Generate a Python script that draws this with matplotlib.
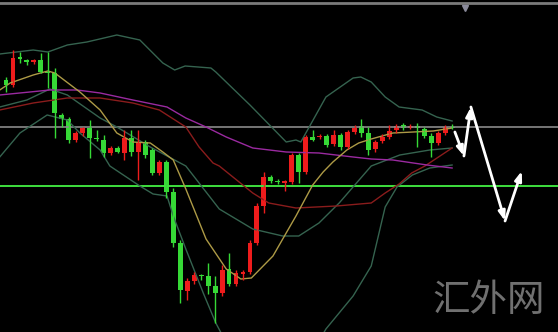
import numpy as np
import matplotlib.pyplot as plt

# candle data (price points)
opens  = [252, 247, 275, 272, 270, 272, 260, 259, 217, 213, 192, 199, 204, 194, 192, 179, 184, 179, 194, 180,
          190, 182, 159, 170, 140, 89, 41, 51, 57, 56, 46, 39, 63, 48, 58, 60, 89, 126, 155, 151,
          149, 150, 177, 160, 195, 195, 196, 188, 197, 185, 200, 206, 199, 183, 191, 195, 202, 207, 204, 206,
          203, 196, 189, 199, 205]
highs  = [255, 282, 280, 273, 273, 279, 280, 264, 219, 215, 201, 205, 212, 202, 197, 186, 186, 202, 202, 202,
          192, 184, 172, 172, 144, 92, 54, 60, 58, 69, 56, 67, 79, 62, 62, 92, 129, 160, 157, 153,
          152, 179, 179, 197, 202, 198, 198, 202, 199, 202, 207, 213, 205, 192, 198, 207, 208, 209, 208, 209,
          205, 199, 201, 207, 208]
lows   = [240, 245, 269, 267, 268, 259, 244, 194, 205, 189, 190, 196, 174, 191, 175, 177, 179, 172, 176, 152,
          174, 157, 157, 134, 85, 29, 32, 48, 52, 38, 9, 36, 46, 46, 52, 58, 87, 119, 149, 148,
          141, 148, 149, 158, 191, 193, 185, 186, 182, 183, 198, 195, 177, 180, 189, 193, 199, 202, 203, 185,
          194, 175, 187, 197, 203]
closes = [247, 274, 273, 270, 272, 260, 259, 219, 213, 192, 199, 204, 194, 193, 179, 184, 180, 194, 180, 190,
          177, 159, 170, 140, 89, 42, 51, 57, 56, 46, 39, 62, 48, 59, 60, 89, 126, 155, 151, 150,
          151, 177, 160, 195, 192, 196, 187, 197, 185, 200, 204, 199, 182, 190, 195, 201, 206, 204, 206, 204,
          196, 189, 199, 205, 204]

# indicator lines (bar index, price)
bb_up_x = [-0.9, 3.9, 6, 8.8, 11.6, 15.9, 19.2, 22.5, 24.2, 25.7, 29.4, 30.1, 35, 40.2, 41.6, 42.3, 45.9, 49.8,
           50.9, 52.4, 54.4, 56.4, 59.7, 61.8, 64]
bb_up_y = [278, 282, 280, 287, 290, 297, 292, 269, 262, 266, 264, 260, 227, 190, 192, 190, 235, 254,
           255, 250, 235, 225, 222, 215, 211]
bb_mid_x = [-0.9, 3, 6.3, 8.8, 13.5, 15.9, 20.7, 25.8, 30.6, 35.4, 39.7, 42, 44.9, 47.8, 52.4, 56.5, 60.8, 64]
bb_mid_y = [225, 232, 243, 237, 214, 205, 185, 166, 123, 103, 96, 96, 109, 129, 166, 177, 182, 184]
bb_lo_x = [-0.9, 2, 5.9, 8.8, 10.6, 13.5, 14.9, 19.2, 21.1, 23.1, 24, 25.8, 28.3, 30.1, 31.4, 45, 45.9, 49.8,
           52.4, 54.4, 56.1, 58.3, 60.8, 64]
bb_lo_y = [175, 199, 217, 212, 199, 182, 166, 146, 138, 136, 116, 83, 39, 9, -8, -8, 3, 36,
           66, 125, 145, 157, 164, 167]
ma_fast_x = [-0.9, 0.6, 3.9, 6, 7, 10.6, 13.5, 15.9, 18.2, 20.7, 22.5, 24, 25.8, 28.7, 31.6, 33.7, 35.2, 38.3,
             41.6, 44, 45.5, 46.9, 48.9, 50.6, 52.4, 55.5, 58.4, 61.3, 64]
ma_fast_y = [242, 249, 257, 261, 259, 240, 222, 199, 190, 189, 180, 172, 143, 93, 63, 53, 54, 76,
             116, 147, 160, 170, 182, 189, 193, 199, 200, 201, 204]
ma_mid_x = [-0.9, 6.3, 10.2, 13.5, 18.2, 23.1, 25.8, 28.7, 31.6, 35.4, 40.2, 44.9, 49.8, 52.4, 55.5, 60.4, 64]
ma_mid_y = [237, 242, 242, 239, 232, 225, 214, 205, 195, 184, 180, 179, 175, 173, 172, 167, 164]
ma_slow_x = [-0.9, 3.9, 8.8, 13.5, 18.2, 22, 25.8, 27.7, 29.7, 30.6, 35.4, 37.7, 41.6, 47.4, 52.4, 54.4, 56.4,
             58.2, 60.1, 64]
ma_slow_y = [222, 229, 234, 234, 229, 222, 205, 185, 169, 166, 139, 129, 124, 126, 129, 139, 148,
             159, 166, 184]

level_res = 205
level_sup = 146

# forecast path
path_x = [64.4, 65.7, 66.7, 71.6, 74.0]
path_y = [200, 176, 225, 111, 161]

fig = plt.figure(figsize=(5.58, 3.32), dpi=100)
fig.patch.set_facecolor('black')
ax = fig.add_axes([0, 0, 1, 1])
ax.set_facecolor('black')
ax.set_xlim(-0.861, 79.196)
ax.set_ylim(0, 332)
ax.axis('off')

ax.axhline(level_res, color='#8a8a8a', lw=1.2)
ax.axhline(level_sup, color='#3ee03e', lw=1.4)

bb_col = '#35634f'
ax.plot(bb_up_x, bb_up_y, color=bb_col, lw=1)
ax.plot(bb_mid_x, bb_mid_y, color=bb_col, lw=1)
ax.plot(bb_lo_x, bb_lo_y, color=bb_col, lw=1)
ax.plot(ma_slow_x, ma_slow_y, color='#8a1c1c', lw=1)
ax.plot(ma_mid_x, ma_mid_y, color='#9a2aa0', lw=1)
ax.plot(ma_fast_x, ma_fast_y, color='#ad9a46', lw=1)

# candles
idx = np.arange(len(opens))
o = np.array(opens); c = np.array(closes)
up = c >= o
cols = np.where(up, '#ee1c1c', '#36d936')
ax.vlines(idx, lows, highs, colors=cols, lw=1)
ax.bar(idx, np.abs(c - o) + 0.8, bottom=np.minimum(o, c) - 0.4, width=0.7, color=cols, linewidth=0)

# forecast arrows
for k in range(len(path_x) - 1):
    ax.annotate('', xy=(path_x[k + 1], path_y[k + 1]), xytext=(path_x[k], path_y[k]),
                arrowprops=dict(arrowstyle='-|>,head_length=0.55,head_width=0.2', color='white', lw=2,
                                shrinkA=0, shrinkB=0))

# top frame
ax.plot([0, 1], [0.99, 0.99], transform=ax.transAxes, color='#7a7a7a', lw=2)
ax.plot([0.833], [0.975], transform=ax.transAxes, marker='v', color='#8a8a9a', ms=5)

ax.text(0.875, 0.095, '汇外网', transform=ax.transAxes, ha='center', va='center',
        fontsize=27, color='#707070', fontweight='light', family=['Noto Sans CJK SC', 'DejaVu Sans'])

fig.savefig('out.png', dpi=100, facecolor='black')
